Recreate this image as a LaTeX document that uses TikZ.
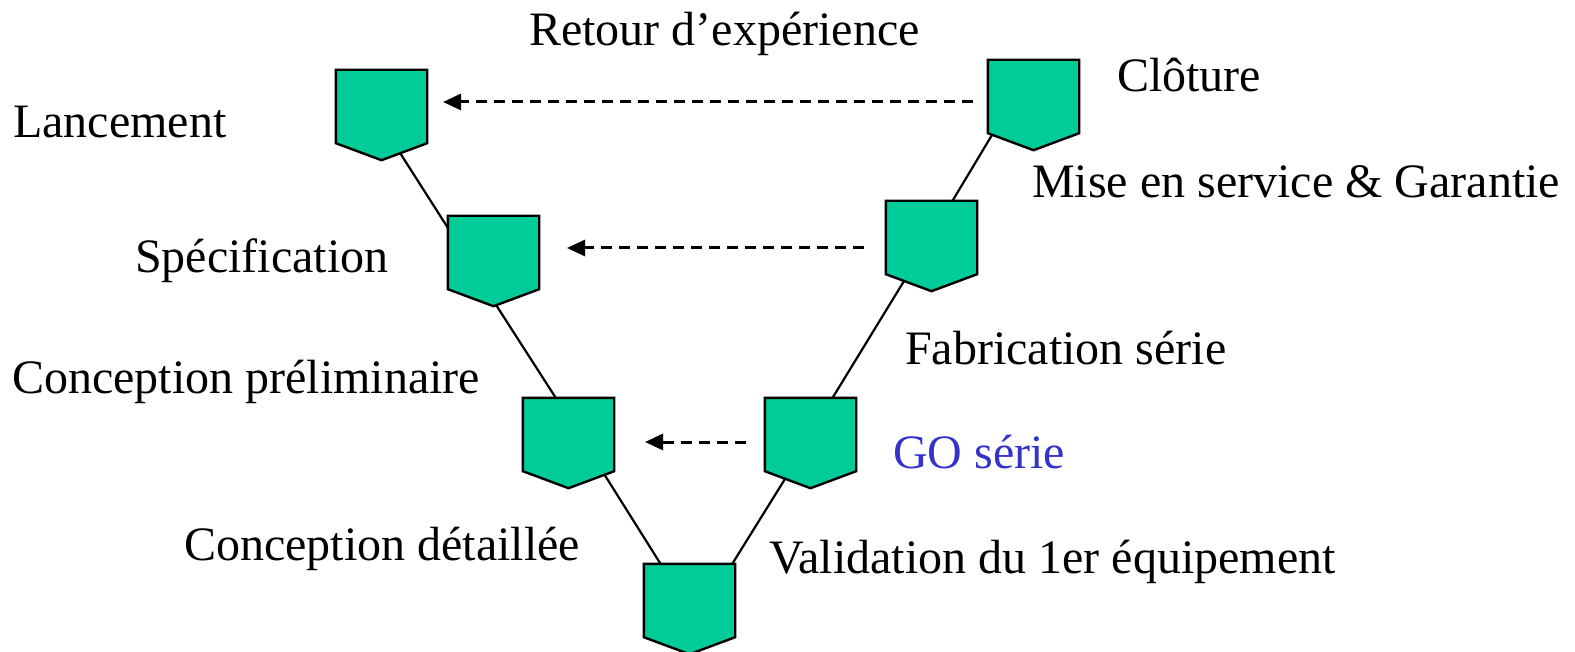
\documentclass[tikz,border=0pt]{standalone}
\usepackage{fontspec}
\setmainfont{Liberation Serif}
\usetikzlibrary{arrows.meta}
\pgfdeclarelayer{background}
\pgfsetlayers{background,main}
\definecolor{vgreen}{HTML}{00CC99}
\definecolor{goblue}{HTML}{3333CC}
\tikzset{
  box/.style={rectangle, minimum width=91pt, minimum height=73pt, inner sep=0pt, draw=none},
  penta/.style={fill=vgreen, draw=black, line width=2.4pt, line join=miter},
  link/.style={draw=black, line width=2.2pt},
  back/.style={draw=black, line width=3pt, dash pattern=on 11pt off 7pt, -{Triangle[length=18pt,width=16pt]}},
  lbl/.style={anchor=base west, inner sep=0pt, font=\fontsize{48}{56}\selectfont}
}
\newcommand{\vshape}[3]{%
  \node[box] (#1) at (#2,#3) {};
  \path[penta] (#1.north west) -- (#1.north east) -- (#1.south east) -- ([yshift=-17pt]#1.south) -- (#1.south west) -- cycle;
}
\begin{document}
\begin{tikzpicture}[x=1pt,y=-1pt]
\useasboundingbox (0,0) rectangle (1575,652);
\clip (0,0) rectangle (1575,652);
% shapes
\vshape{A}{381.5}{106.5}
\vshape{B}{493.5}{252.5}
\vshape{C}{568.5}{434.5}
\vshape{D}{689.5}{600.5}
\vshape{E}{810.5}{434.5}
\vshape{F}{931.5}{237.5}
\vshape{G}{1033.5}{96.5}
% connector end points
\coordinate (ab1) at (379,120); \coordinate (ab2) at (462,250);
\coordinate (bc1) at (480,280); \coordinate (bc2) at (570,420);
\coordinate (cd1) at (589,450); \coordinate (cd2) at (677,590);
\coordinate (de1) at (716,590); \coordinate (de2) at (803,450);
\coordinate (ef1) at (819,420); \coordinate (ef2) at (923,250);
\coordinate (fg1) at (941,220); \coordinate (fg2) at (1007,110);
\begin{pgfonlayer}{background}
\draw[link] (ab1) -- (ab2);
\draw[link] (bc1) -- (bc2);
\draw[link] (cd1) -- (cd2);
\draw[link] (de1) -- (de2);
\draw[link] (ef1) -- (ef2);
\draw[link] (fg1) -- (fg2);
\end{pgfonlayer}
% feedback arrows
\coordinate (g0) at (973,102); \coordinate (a0) at (443,102);
\coordinate (f0) at (864,248); \coordinate (b0) at (567,248);
\coordinate (e0) at (746,442); \coordinate (c0) at (645,442);
\draw[back] (g0) -- (a0);
\draw[back] (f0) -- (b0);
\draw[back] (e0) -- (c0);
% labels
\node[lbl] (t1) at (529,46) {Retour d’expérience};
\node[lbl] (t2) at (13,138) {Lancement};
\node[lbl] (t3) at (1117,92) {Clôture};
\node[lbl] (t4) at (1032,198) {Mise en service \& Garantie};
\node[lbl] (t5) at (135,273) {Spécification};
\node[lbl] (t6) at (905,365) {Fabrication série};
\node[lbl] (t7) at (12,393) {Conception préliminaire};
\node[lbl, text=goblue] (t8) at (893,468) {GO série};
\node[lbl] (t9) at (184,560) {Conception détaillée};
\node[lbl] (t10) at (769,573) {Validation du 1er équipement};
\end{tikzpicture}
\end{document}
